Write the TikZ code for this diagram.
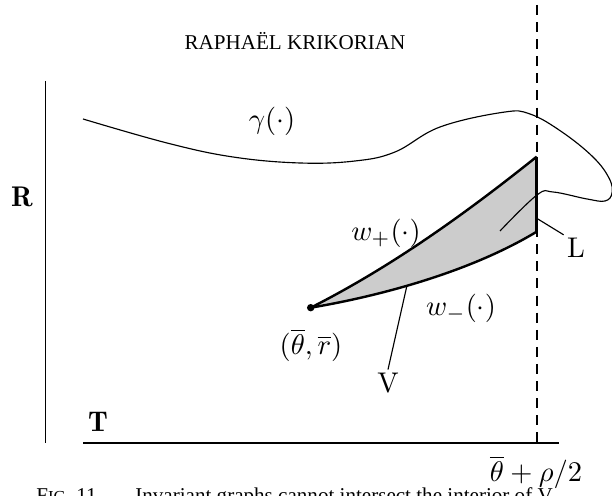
\documentclass[tikz,border=0pt]{standalone}
\usepackage{amsmath,amssymb}
\usepackage{fontspec}
\usepackage{tikz}
\usetikzlibrary{positioning}
\usetikzlibrary{calc}
\newfontfamily\headfont{Liberation Serif}
\newcommand{\headsize}{\fontsize{7.4}{9}\selectfont}

\begin{document}
\begin{tikzpicture}[x=0.351pt,y=-0.351pt,line width=0.4pt]
  \useasboundingbox (0,0) rectangle (612,496);
  \tikzset{
    axisline/.style={line width=0.45pt},
    border/.style={line width=0.85pt},
    leader/.style={line width=0.4pt},
    lbl/.style={inner sep=1pt}
  }
  % running head and caption
  \node[lbl,font=\headfont\headsize] (head) at (295,41) {RAPHAËL KRIKORIAN};
  \node[lbl,font=\headfont\headsize,anchor=base west] (cap) at (33,503)
    {F{\fontsize{5.9}{7}\selectfont IG}. 11. --- Invariant graphs cannot intersect the interior of V};
  % axes
  \coordinate (rtop) at (45.7,81);
  \coordinate (rbot) at (45.7,443);
  \coordinate (tleft) at (83,443);
  \coordinate (tright) at (559,443);
  \coordinate (dtop) at (537,5);
  \coordinate (dbot) at (537,443);
  \draw[axisline] (rtop) -- (rbot);
  \draw[axisline] (tleft) -- (tright);
  \draw[dash pattern=on 3.5pt off 2.5pt] (dtop) -- (dbot);
  \node[lbl] (R) at (22,197) {$\mathbf{R}$};
  \node[lbl] (T) at (98,422) {$\mathbf{T}$};
  \node[lbl] (rho) at (536,472) {$\overline{\theta}+\rho/2$};
  % the region V between w_- and w_+
  \coordinate (p0) at (310.7,307.7);
  \coordinate (ptop) at (536.7,156.7);
  \coordinate (pbot) at (536.7,231.7);
  \fill[black!20] (p0) .. controls (395,265) and (470,210) .. (ptop)
    -- (pbot) .. controls (470,272) and (380,296) .. (p0) -- cycle;
  \draw[border] (p0) .. controls (395,265) and (470,210) .. (ptop);
  \draw[border] (p0) .. controls (380,296) and (470,272) .. (pbot);
  \draw[border] (ptop) -- (pbot);
  \fill (p0) circle (1.3pt);
  % the graph gamma
  \draw plot[smooth,tension=0.65] coordinates {(83,119) (167,143) (233,157)
    (300,163) (355,161) (395,152) (440,127) (503,112.3) (530,114)
    (562,132) (593,157) (609,178) (612,193) (605,201) (587,199)
    (553,192) (537,195) (500,231)};
  % labels
  \node[lbl] (gam) at (272,121) {$\gamma(\cdot)$};
  \node[lbl] (wp) at (386,233) {$w_+(\cdot)$};
  \node[lbl] (wm) at (461,308) {$w_-(\cdot)$};
  \node[lbl] (pt) at (311,345) {$(\overline{\theta},\overline{r})$};
  \node[lbl] (V) at (388,383) {V};
  \node[lbl] (L) at (576,248) {L};
  \coordinate (vin) at (406.7,286.7);
  \coordinate (lin) at (536.7,218.3);
  \draw[leader] (vin) -- (V.north);
  \draw[leader] (lin) -- (L.north west);
\end{tikzpicture}
\end{document}
